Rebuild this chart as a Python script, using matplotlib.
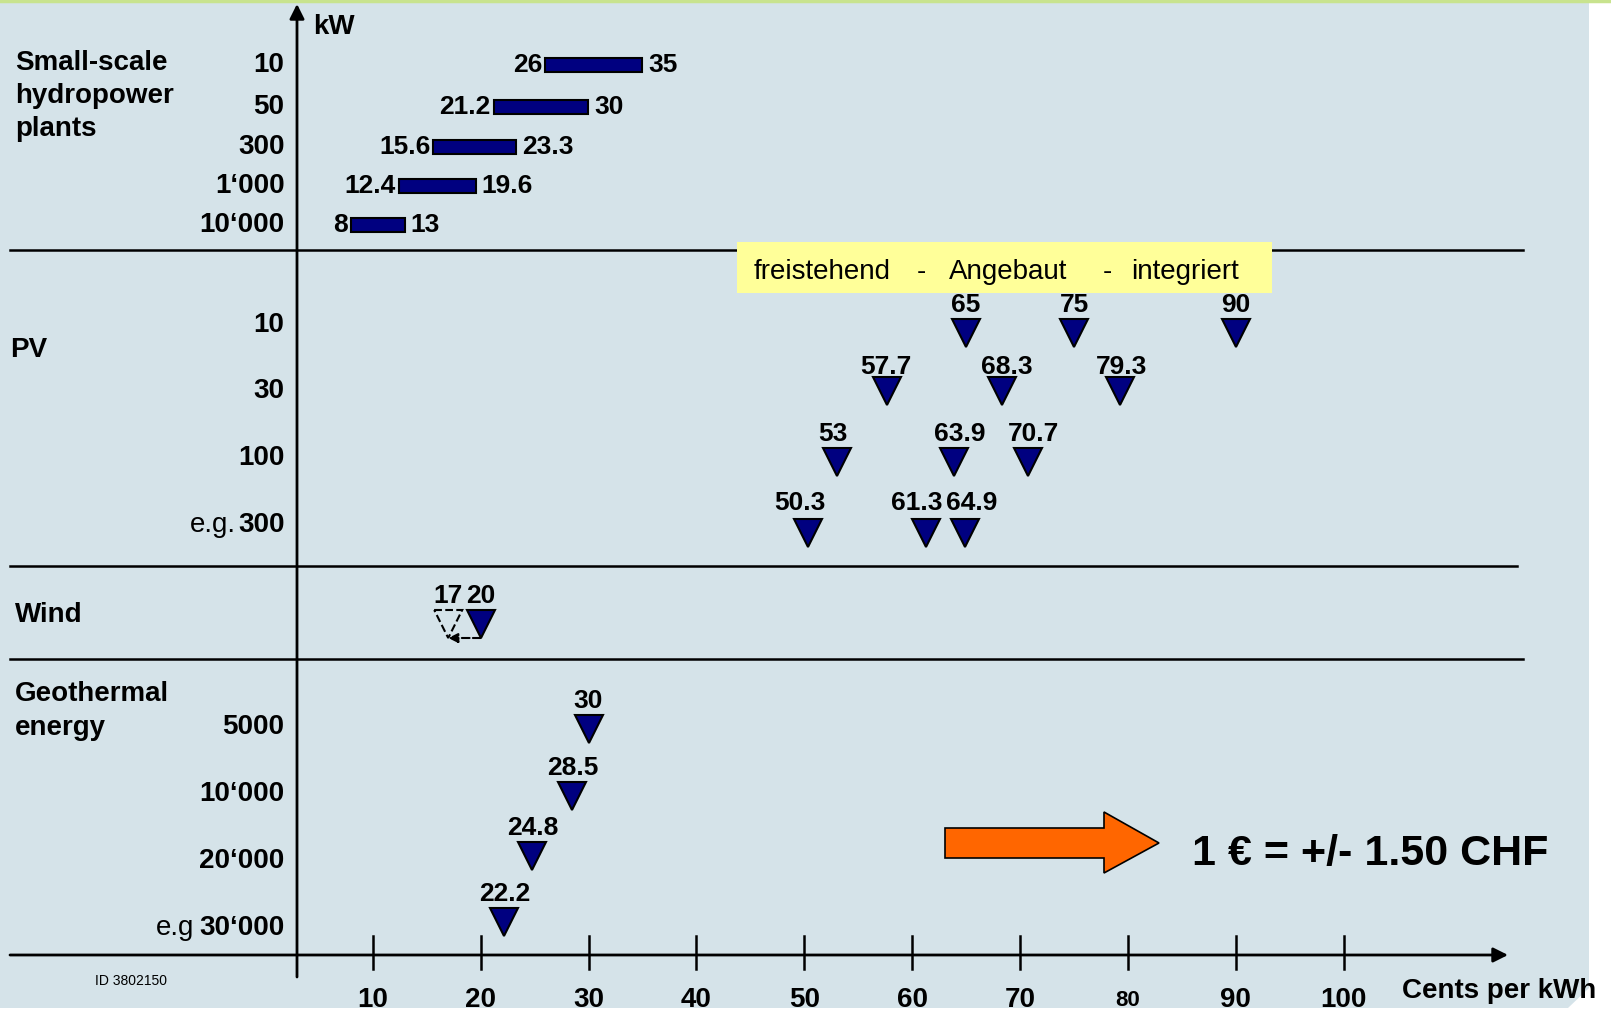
import numpy as np
import matplotlib.pyplot as plt
from matplotlib.patches import Polygon, Rectangle

plt.rcParams['font.family'] = ['Liberation Sans', 'DejaVu Sans']

# cost axis, cents per kWh
x_ticks = [10, 20, 30, 40, 50, 60, 70, 80, 90, 100]

# small-scale hydropower: plant size (kW) and cost range
hydro_kw = ['10', '50', '300', '1‘000', '10‘000']
hydro_low = [26, 21.2, 15.6, 12.4, 8]
hydro_high = [35, 30, 23.3, 19.6, 13]

# PV: freistehend - Angebaut - integriert
pv_kw = ['10', '30', '100', '300']
pv_cost = [[65, 75, 90],
           [57.7, 68.3, 79.3],
           [53, 63.9, 70.7],
           [50.3, 61.3, 64.9]]

# wind: old and new value
wind_old = 17
wind_new = 20

# geothermal energy
geo_kw = ['5000', '10‘000', '20‘000', '30‘000']
geo_cost = [30, 28.5, 24.8, 22.2]

# layout: x in cents (pixel of 0 cents, pixels per cent), y in pixels
X0, SX = 264.8, 10.79
def px(p):
    return (p - X0) / SX

hydro_y = [65, 107, 147, 186, 225]
pv_y = [325, 391, 458, 525]
pv_mark_y = [333, 391, 462, 533]
pv_lab_dy = [-28, -24, -28, -30]
pv_lab_dx = [[0, 0, 0], [-2, 5, 1], [-4, 5, 6], [-8, -9, 7]]
wind_y = 624
geo_y = [727, 794, 861, 928]
geo_mark_y = [728.5, 796, 856, 921.6]

navy = '#000080'
bold = dict(fontsize=20, fontweight='bold', color='black')
vlab = dict(fontsize=19, fontweight='bold', color='black', ha='center', va='center')

fig = plt.figure(figsize=(16.11, 10.11), dpi=100)
ax = fig.add_axes([0, 0, 1, 1])
ax.set_xlim(px(0), px(1611))
ax.set_ylim(1011, 0)
ax.axis('off')

# background panel
ax.add_patch(Polygon([(px(0), 2), (px(1589), 2), (px(1589), 988),
                      (px(1568), 1008), (px(0), 1008)],
                     closed=True, facecolor='#d5e3e9', edgecolor='none', zorder=0))
ax.plot([px(0), px(1611)], [1, 1], color='#c8e38e', lw=2.5, zorder=1)

# axes with arrows
ax.annotate('', xy=(px(1508), 955), xytext=(px(10), 955),
            arrowprops=dict(arrowstyle='-|>', color='k', lw=2, mutation_scale=22,
                            shrinkA=0, shrinkB=0))
ax.annotate('', xy=(px(297), 4), xytext=(px(297), 977),
            arrowprops=dict(arrowstyle='-|>', color='k', lw=2, mutation_scale=22,
                            shrinkA=0, shrinkB=0))
for t in x_ticks:
    ax.plot([t, t], [936, 969], color='k', lw=1.8)
    ax.text(t, 1000, str(t), ha='center', va='center',
            fontsize=16 if t == 80 else 20, fontweight='bold')
ax.text(px(1402), 991, 'Cents per kWh', ha='left', va='center', **bold)
ax.text(px(313), 27, 'kW', ha='left', va='center', **bold)
ax.text(px(95), 981, 'ID 3802150', ha='left', va='center', fontsize=10)

# section separators
ax.plot([px(10), px(1523)], [249.6, 249.6], color='k', lw=1.8)
ax.plot([px(10), px(1517)], [566, 566], color='k', lw=1.8)
ax.plot([px(10), px(1523)], [658.5, 658.5], color='k', lw=1.8)

# section names
for s, y in zip(['Small-scale', 'hydropower', 'plants'], [63, 96, 129]):
    ax.text(px(15), y, s, ha='left', va='center', **bold)
ax.text(px(10), 350, 'PV', ha='left', va='center', **bold)
ax.text(px(15), 615, 'Wind', ha='left', va='center', **bold)
for s, y in zip(['Geothermal', 'energy'], [694, 728]):
    ax.text(px(15), y, s, ha='left', va='center', **bold)

# hydropower bars
lo = np.array(hydro_low)
hi = np.array(hydro_high)
ax.barh(hydro_y, hi - lo, left=lo, height=14.4, color=navy,
        edgecolor='black', linewidth=1.5, zorder=3)
for y, k, a, b in zip(hydro_y, hydro_kw, hydro_low, hydro_high):
    ax.text(px(284.6), y, k, ha='right', va='center', **bold)
    ax.annotate(f'{a:g}', (a, y), xytext=(-2, 0), textcoords='offset points',
                ha='right', va='center', fontsize=19, fontweight='bold')
    ax.annotate(f'{b:g}', (b, y), xytext=(4, 0), textcoords='offset points',
                ha='left', va='center', fontsize=19, fontweight='bold')

# PV markers
ax.add_patch(Rectangle((px(737), 242), px(1272) - px(737), 51,
                       facecolor='#ffff99', edgecolor='none', zorder=4))
for s, xp in zip(['freistehend', '-', 'Angebaut', '-', 'integriert'],
                 [822, 921, 1008, 1107, 1185]):
    ax.text(px(xp), 272, s, ha='center', va='center', fontsize=20, zorder=5)
for y, my, dy, dxs, k, costs in zip(pv_y, pv_mark_y, pv_lab_dy, pv_lab_dx,
                                    pv_kw, pv_cost):
    ax.text(px(284.6), y, k, ha='right', va='center', **bold)
    ax.plot(costs, [my] * len(costs), 'v', ms=20.5, mfc=navy, mec='black',
            mew=1.5, zorder=3)
    for c, dx in zip(costs, dxs):
        ax.text(c + dx / SX, my + dy, f'{c:g}', **vlab)
ax.text(px(236), pv_y[-1], 'e.g.', ha='right', va='center', fontsize=20)

# wind
ax.plot([wind_new], [wind_y], 'v', ms=20.5, mfc=navy, mec='black', mew=1.5, zorder=3)
hw, hh = 14 / SX, 14
ax.add_patch(Polygon([(wind_old - hw, wind_y - hh), (wind_old + hw, wind_y - hh),
                      (wind_old, wind_y + hh)], closed=True, facecolor='none',
                     edgecolor='black', linestyle='--', lw=1.5, zorder=3))
ax.annotate('', xy=(wind_old, wind_y + hh), xytext=(wind_new, wind_y + hh),
            arrowprops=dict(arrowstyle='-|>', color='k', lw=1.5, ls='--',
                            mutation_scale=14, shrinkA=0, shrinkB=0))
ax.text(wind_old, wind_y - 28, f'{wind_old}', **vlab)
ax.text(wind_new, wind_y - 28, f'{wind_new}', **vlab)

# geothermal
ax.plot(geo_cost, geo_mark_y, 'v', ms=20.5, mfc=navy, mec='black', mew=1.5, zorder=3)
for y, my, k, c in zip(geo_y, geo_mark_y, geo_kw, geo_cost):
    ax.text(px(284.6), y, k, ha='right', va='center', **bold)
    ax.text(c, my - 28, f'{c:g}', **vlab)
ax.text(px(194), geo_y[-1], 'e.g', ha='right', va='center', fontsize=20)

# exchange rate note
ax.add_patch(Polygon([(px(945), 828), (px(1104), 828), (px(1104), 812),
                      (px(1159), 843), (px(1104), 873), (px(1104), 858),
                      (px(945), 858)], closed=True, facecolor='#ff6600',
                     edgecolor='black', lw=1.2, zorder=3))
ax.text(px(1192), 854, '1 € = +/- 1.50 CHF', ha='left', va='center',
        fontsize=31, fontweight='bold')

fig.savefig('out.png', dpi=100)
